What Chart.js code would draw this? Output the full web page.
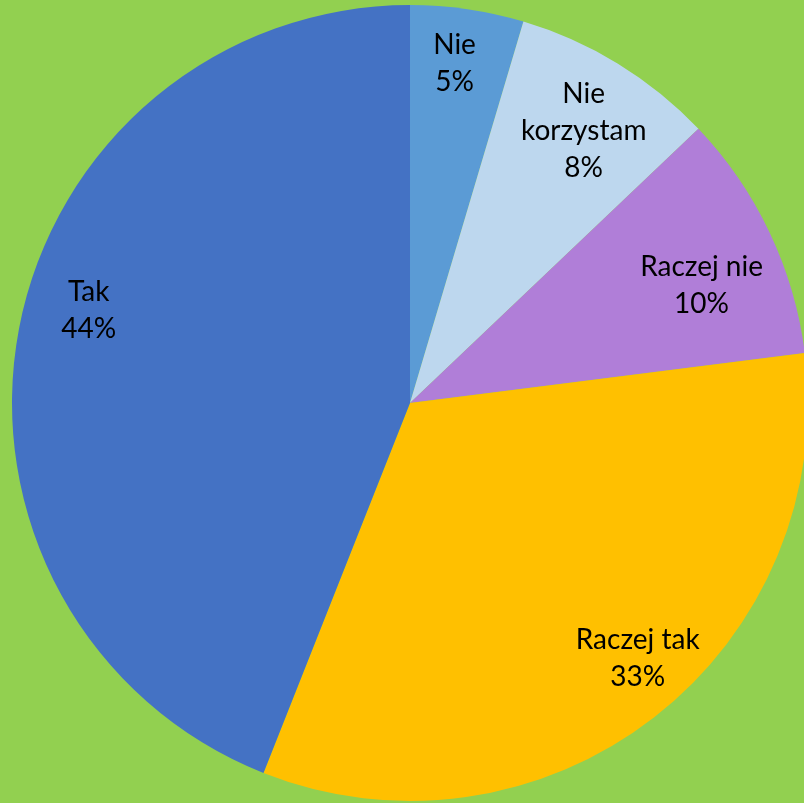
<!DOCTYPE html>
<html>
<head>
<meta charset="utf-8">
<script src="https://cdn.jsdelivr.net/npm/chart.js@4/dist/chart.umd.min.js"></script>
<style>
  html, body { margin: 0; padding: 0; width: 804px; height: 803px; overflow: hidden; background: #92D050; }
  #wrap { position: absolute; left: 0; top: 0; width: 820px; height: 806px; }
</style>
</head>
<body>
<div id="wrap"><canvas id="c"></canvas></div>
<script>
// Survey answers, clockwise from 12 o'clock
const categories = ['Nie', 'Nie korzystam', 'Raczej nie', 'Raczej tak', 'Tak'];
const shares = [4.6, 8.3, 10.1, 33.0, 44.0];
const sliceColors = ['#5B9BD5', '#BDD7EE', '#B07ED8', '#FFC000', '#4472C4'];

// Label placement: fraction of radius and angular nudge (degrees) per slice
const labelRadius = [0.86, 0.81, 0.79, 0.86, 0.84];
const labelNudge = [-0.8, 1.1, 3.4, -3.9, 5.2];

const pieLabels = {
  id: 'pieLabels',
  afterDatasetsDraw(chart) {
    const ctx = chart.ctx;
    const meta = chart.getDatasetMeta(0);
    const data = chart.data.datasets[0].data;
    const total = data.reduce((a, b) => a + b, 0);
    ctx.save();
    ctx.fillStyle = '#000000';
    ctx.font = '28px Lato, "Liberation Sans", sans-serif';
    ctx.textAlign = 'center';
    ctx.textBaseline = 'middle';
    meta.data.forEach((arc, i) => {
      const p = arc.getProps(['x', 'y', 'startAngle', 'endAngle', 'outerRadius'], true);
      const mid = (p.startAngle + p.endAngle) / 2 + labelNudge[i] * Math.PI / 180;
      const r = p.outerRadius * labelRadius[i];
      const cx = p.x + Math.cos(mid) * r;
      const cy = p.y + Math.sin(mid) * r;
      const pct = Math.round(data[i] / total * 100) + '%';
      const words = chart.data.labels[i] === 'Nie korzystam' ? ['Nie', 'korzystam'] : [chart.data.labels[i]];
      const lines = words.concat([pct]);
      const lh = 37;
      const y0 = cy - (lines.length - 1) * lh / 2;
      lines.forEach((t, k) => ctx.fillText(t, cx, y0 + k * lh));
    });
    ctx.restore();
  }
};

new Chart(document.getElementById('c'), {
  type: 'pie',
  data: {
    labels: categories,
    datasets: [{
      data: shares,
      backgroundColor: sliceColors,
      borderWidth: 0
    }]
  },
  options: {
    responsive: true,
    maintainAspectRatio: false,
    animation: false,
    layout: { padding: 5 },
    plugins: {
      legend: { display: false },
      tooltip: { enabled: false }
    }
  },
  plugins: [pieLabels]
});
</script>
</body>
</html>
